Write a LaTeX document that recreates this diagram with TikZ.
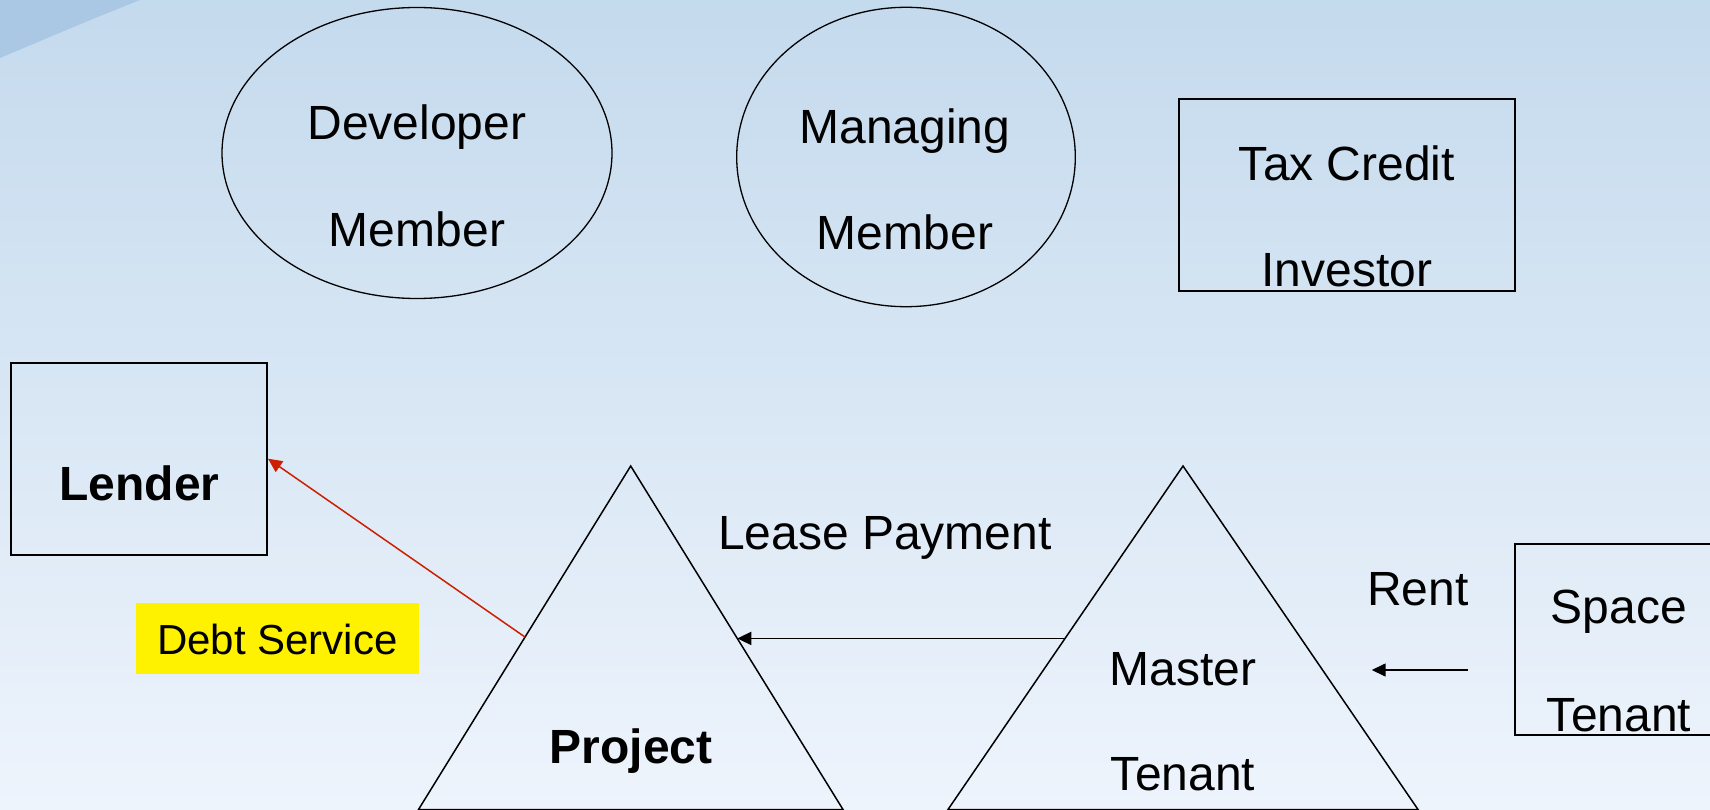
\documentclass[tikz,border=0pt]{standalone}
\usepackage{fontspec}
\setmainfont{Liberation Sans}
\usetikzlibrary{shapes.geometric,arrows.meta,calc}
\definecolor{bgtop}{RGB}{196,218,237}
\definecolor{bgbot}{RGB}{238,244,252}
\definecolor{swoosh}{RGB}{170,200,228}
\definecolor{debtred}{RGB}{204,32,0}
\begin{document}
\begin{tikzpicture}[x=1pt,y=-1pt,
  lbl/.style={anchor=base,inner sep=0pt,font=\fontsize{48}{48}\selectfont},
  lblb/.style={anchor=base,inner sep=0pt,font=\bfseries\fontsize{48}{48}\selectfont},
  oval/.style={ellipse,draw=black,line width=1.3pt,inner sep=0pt},
  box/.style={rectangle,draw=black,line width=2pt,inner sep=0pt},
  tri/.style={draw=black,line width=1.5pt,line join=miter},
  flow/.style={line width=1.8pt,-{Triangle[length=14pt,width=13pt]}}]
\useasboundingbox (0,0) rectangle (1710,810);
\clip (0,0) rectangle (1710,810);
\shade[top color=bgtop,bottom color=bgbot] (0,0) rectangle (1710,810);
\fill[swoosh] (0,0) -- (140,0) .. controls (90,20) .. (0,58) -- cycle;

% top row
\node[oval,minimum width=390pt,minimum height=291pt] (dev) at (417,153) {};
\node[lbl] (devA) at (417,140) {Developer};
\node[lbl] (devB) at (417,247) {Member};

\node[oval,minimum width=338.6pt,minimum height=299.4pt] (man) at (906,157) {};
\node[lbl] (manA) at (905,143.3) {Managing};
\node[lbl] (manB) at (905,250) {Member};

\node[box,minimum width=336.6pt,minimum height=191.7pt] (tax) at (1347,194.85) {};
\node[lbl] (taxA) at (1347,180.7) {Tax Credit};
\node[lbl] (taxB) at (1347,286.7) {Investor};

% lender
\node[box,minimum width=256.3pt,minimum height=192pt] (lender) at (138.85,458.7) {};
\node[lblb] (lenderT) at (139.5,500) {Lender};

% debt service label
\node[fill=yellow,minimum width=282.2pt,minimum height=71pt,inner sep=0pt] (debtbox) at (277.5,638.8) {};
\node[anchor=base,inner sep=0pt,font=\fontsize{42}{42}\selectfont] (debtT) at (277.5,654) {Debt Service};

% space tenant
\node[box,minimum width=220pt,minimum height=191.6pt,anchor=north west] (space) at (1514.3,542.7) {};
\node[lbl] (spaceA) at (1619,623.3) {Space};
\node[lbl] (spaceB) at (1619,731.7) {Tenant};

% triangles
\coordinate (pa) at (630.7,466);
\coordinate (pbl) at (418.5,809.5);
\coordinate (pbr) at (843,809.5);
\draw[tri] (pa) -- (pbl) -- (pbr) -- cycle;
\node[lblb] (projT) at (631,763.3) {Project};

\coordinate (ma) at (1183,466);
\coordinate (mbl) at (948,809.5);
\coordinate (mbr) at (1418,809.5);
\draw[tri] (ma) -- (mbl) -- (mbr) -- cycle;
\node[lbl] (mastA) at (1183,685) {Master};
\node[lbl] (mastB) at (1183,790) {Tenant};

% flow labels
\node[lbl] (leaseT) at (885,549.3) {Lease Payment};
\node[lbl] (rentT) at (1418,605) {Rent};

% arrows
\coordinate (mL) at ($(ma)!0.502!(mbl)$);
\coordinate (pR) at ($(pa)!0.502!(pbr)$);
\draw[flow] (mL) -- (pR);

\coordinate (pL) at ($(pa)!0.498!(pbl)$);
\draw[flow,draw=debtred,fill=debtred,line width=1.5pt] (pL) -- (lender.east);

\coordinate (rs) at (1467.7,670);
\coordinate (re) at (1371.7,670);
\draw[flow,line width=1.5pt] (rs) -- (re);
\end{tikzpicture}
\end{document}
